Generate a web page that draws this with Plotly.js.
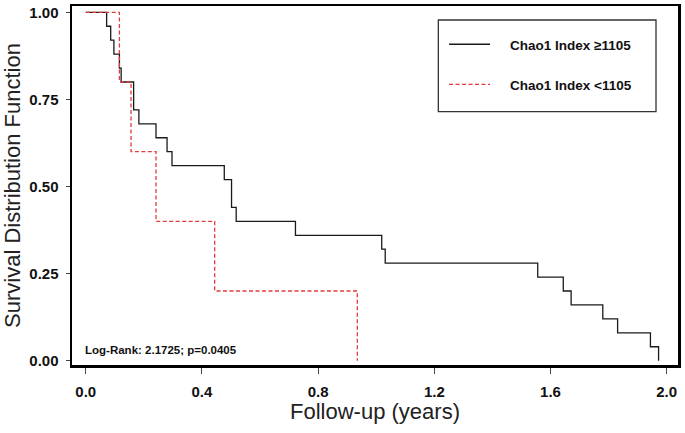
<!DOCTYPE html>
<html>
<head>
<meta charset="utf-8">
<script src="https://cdn.plot.ly/plotly-3.0.1.min.js"></script>
<style>html,body{margin:0;padding:0;background:#fff;}#chart{width:685px;height:433px;}</style>
</head>
<body>
<div id="chart"></div>
<script>
// Kaplan-Meier step data
const highName = "Chao1 Index \u22651105";
const lowName = "Chao1 Index <1105";
const highTimes = [0, 0.072, 0.086, 0.097, 0.116, 0.122, 0.165, 0.183, 0.242, 0.280, 0.297, 0.477, 0.502, 0.518, 0.722, 1.019, 1.031, 1.556, 1.644, 1.671, 1.780, 1.831, 1.944, 1.972];
const highSurv  = [1.00, 0.96, 0.92, 0.88, 0.84, 0.80, 0.72, 0.68, 0.64, 0.60, 0.56, 0.52, 0.44, 0.40, 0.36, 0.32, 0.28, 0.24, 0.20, 0.16, 0.12, 0.08, 0.04, 0.00];
const lowTimes = [0, 0.116, 0.156, 0.242, 0.444, 0.935];
const lowSurv  = [1.00, 0.80, 0.60, 0.40, 0.20, 0.00];
const xTicks = [0.0, 0.4, 0.8, 1.2, 1.6, 2.0];
const xTickLabels = ["0.0", "0.4", "0.8", "1.2", "1.6", "2.0"];
const yTicks = [0.00, 0.25, 0.50, 0.75, 1.00];
const yTickLabels = ["0.00", "0.25", "0.50", "0.75", "1.00"];
const statText = "Log-Rank: 2.1725; p=0.0405";

const FONT = "Liberation Sans, Arial, Helvetica, sans-serif";
const BLACK = "#1a1a1a";
const RED = "#e23b3b";
const PAD = "\u00a0\u00a0\u00a0\u00a0";

const traces = [
  {x: highTimes, y: highSurv, type: "scatter", mode: "lines", name: PAD + highName,
   legendgroup: "high", line: {shape: "hv", color: BLACK, width: 1.3}},
  {x: lowTimes, y: lowSurv, type: "scatter", mode: "lines", name: PAD + lowName,
   legendgroup: "low", line: {shape: "hv", color: RED, width: 1.3, dash: "4px,2.5px"}}
];

const layout = {
  width: 685, height: 433,
  margin: {l: 72, r: 7, t: 6, b: 68},
  paper_bgcolor: "#fff", plot_bgcolor: "#fff",
  font: {family: FONT, color: "#000"},
  showlegend: true,
  legend: {
    x: 0.6139, y: 0.936, xanchor: "left", yanchor: "top",
    bgcolor: "rgba(0,0,0,0)", borderwidth: 0, itemwidth: 41, tracegroupgap: 19.5,
    font: {family: FONT, size: 13.5, color: "#111", weight: "bold"}
  },
  xaxis: {
    range: [-0.0472, 2.0389], tickvals: xTicks, ticktext: xTickLabels,
    ticks: "outside", ticklen: 6, tickwidth: 1, tickcolor: "#444",
    showline: true, mirror: true, linewidth: 2.5, linecolor: "#000",
    showgrid: false, zeroline: false, ticklabelstandoff: 5,
    tickfont: {family: FONT, size: 15, color: "#111", weight: "bold"},
    title: {text: "Follow-up (years)", font: {family: FONT, size: 22, color: "#222"}, standoff: 4}
  },
  yaxis: {
    range: [-0.01234, 1.0181], tickvals: yTicks, ticktext: yTickLabels,
    ticks: "outside", ticklen: 4, tickwidth: 1, tickcolor: "#444",
    showline: true, mirror: true, linewidth: 2.5, linecolor: "#000",
    showgrid: false, zeroline: false, ticklabelstandoff: 4,
    tickfont: {family: FONT, size: 15, color: "#111", weight: "bold"},
    title: {text: "Survival Distribution Function", font: {family: FONT, size: 22, color: "#222"}, standoff: 6}
  },
  shapes: [
    {type: "rect", xref: "paper", yref: "paper", x0: 0.6045, x1: 0.9637, y0: 0.7056, y1: 0.961,
     line: {color: "#333", width: 1.3}, fillcolor: "rgba(0,0,0,0)"}
  ],
  annotations: [
    {xref: "paper", yref: "paper", x: 0.0182, y: 0.0418, xanchor: "left", yanchor: "middle", align: "left",
     text: statText, showarrow: false, font: {family: FONT, size: 11.5, color: "#111", weight: "bold"}}
  ]
};

Plotly.newPlot("chart", traces, layout, {displayModeBar: false, staticPlot: true});
</script>
</body>
</html>
